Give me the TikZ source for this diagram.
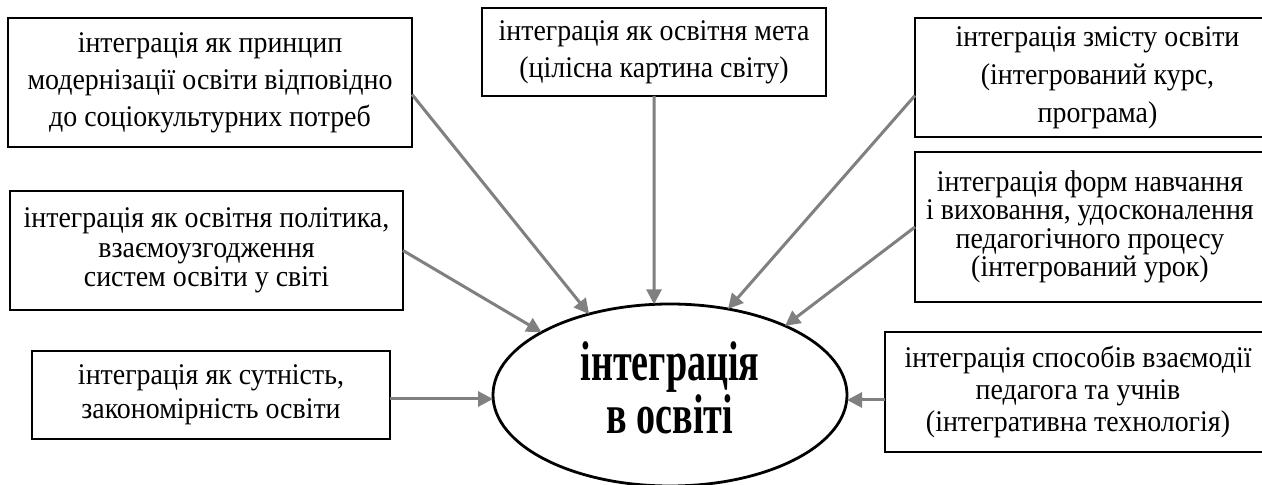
\documentclass[tikz,border=0pt]{standalone}
\usepackage{fontspec}
\setmainfont{Liberation Serif}
\newfontfamily\boxfont[FakeStretch=0.93]{Liberation Serif}
\newfontfamily\ellfont[FakeStretch=0.68]{Liberation Serif}
\usetikzlibrary{arrows.meta,shapes.geometric}
\tikzset{
  box/.style={draw=black, line width=0.7pt, fill=white, inner sep=0pt, outer sep=0pt,
    align=center, font=\boxfont\fontsize{15}{18.5}\selectfont},
  conn/.style={draw=gray, line width=1.5pt, -{Triangle[length=7.5pt,width=7.5pt]}},
}
\begin{document}
\begin{tikzpicture}[x=0.5pt,y=-0.5pt]
\useasboundingbox (0,0) rectangle (1262,485);
\fill[white] (0,0) rectangle (1262,485);
% central ellipse
\node[ellipse, draw=black, line width=1.4pt, inner sep=0pt, outer sep=0pt,
  minimum width=177pt, minimum height=91pt, align=center,
  font=\ellfont\bfseries\fontsize{28}{24.5}\selectfont] (ell) at (670,395) {інтеграція\\в освіті\strut};
% boxes
\node[box, minimum width=202pt, minimum height=64.5pt] (b1) at (210,82.5)
  {інтеграція як принцип\\модернізації освіти відповідно\\до соціокультурних потреб};
\node[box, minimum width=172pt, minimum height=44pt] (b2) at (654,52)
  {інтеграція як освітня мета\\(цілісна картина світу)};
\node[box, minimum width=182.5pt, minimum height=59.5pt, font=\boxfont\fontsize{15}{19}\selectfont] (b3) at (1097.5,77.5)
  {інтеграція змісту освіти\\(інтегрований курс,\\програма)};
\node[box, minimum width=175pt, minimum height=75pt, font=\boxfont\fontsize{15}{14.2}\selectfont] (b4) at (1090,227)
  {інтеграція форм навчання\\і виховання, удосконалення\\педагогічного процесу\\(інтегрований урок)};
\node[box, minimum width=196.5pt, minimum height=59.5pt, font=\boxfont\fontsize{15}{14.8}\selectfont] (b5) at (206.5,250.5)
  {інтеграція як освітня політика,\\взаємоузгодження\\систем освіти у світі};
\node[box, minimum width=179pt, minimum height=44pt, font=\boxfont\fontsize{15}{17}\selectfont] (b6) at (211,395)
  {інтеграція як сутність,\\закономірність освіти};
\node[box, minimum width=193pt, minimum height=60pt, font=\boxfont\fontsize{15}{15.8}\selectfont] (b7) at (1078,392)
  {інтеграція способів взаємодії\\педагога та учнів\\(інтегративна технологія)};
% connectors
\draw[conn] ([yshift=-6pt]b1.east) -- (ell.135);
\draw[conn] (b2.south) -- (ell.100);
\draw[conn] ([yshift=-9pt]b3.west) -- (ell.56);
\draw[conn] (b4.west) -- (ell.31);
\draw[conn] (b5.east) -- (ell.154);
\draw[conn] ([yshift=-2pt]b6.east) -- ([yshift=-2pt]b6.east -| ell.west);
\draw[conn] ([yshift=-4pt]b7.west) -- ([yshift=-4pt]b7.west -| ell.east);
\end{tikzpicture}
\end{document}
